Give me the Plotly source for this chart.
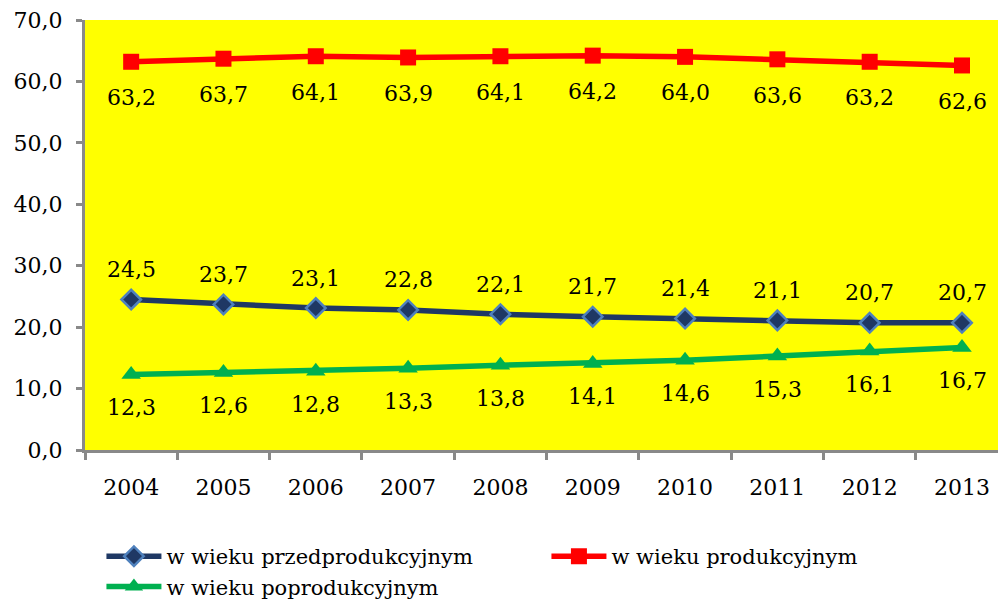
import plotly.graph_objects as go

years = ["2004", "2005", "2006", "2007", "2008", "2009", "2010", "2011", "2012", "2013"]
przed = [24.5, 23.7, 23.1, 22.8, 22.1, 21.7, 21.4, 21.1, 20.7, 20.7]
prod = [63.2, 63.7, 64.1, 63.9, 64.1, 64.2, 64.0, 63.6, 63.2, 62.6]
poprod = [12.3, 12.6, 12.8, 13.3, 13.8, 14.1, 14.6, 15.3, 16.1, 16.7]
y_ticks = [0, 10, 20, 30, 40, 50, 60, 70]

FONT = "DejaVu Serif"
FS = 22

def fmt(v):
    return f"{v:.1f}".replace(".", ",")

fig = go.Figure()
fig.add_trace(go.Scatter(
    x=years, y=przed, name="w wieku przedprodukcyjnym", mode="lines+markers",
    line=dict(color="#1F3864", width=5.5),
    marker=dict(symbol="diamond", size=15, color="#1F3864", line=dict(color="#4F81BD", width=2.5)),
))
fig.add_trace(go.Scatter(
    x=years, y=prod, name="w wieku produkcyjnym", mode="lines+markers",
    line=dict(color="#FF0000", width=5.5),
    marker=dict(symbol="square", size=16, color="#FF0000"),
))
fig.add_trace(go.Scatter(
    x=years, y=poprod, name="w wieku poprodukcyjnym", mode="lines+markers",
    line=dict(color="#00B050", width=5.5),
    marker=dict(symbol="triangle-up", size=17, color="#00B050"),
))

def add_labels(values, shift):
    for i, v in enumerate(values):
        fig.add_annotation(x=i, y=v, xref="x", yref="y", text=fmt(v), showarrow=False,
                           yshift=shift, font=dict(family=FONT, size=FS, color="black"))

add_labels(przed, 30)
add_labels(prod, -36)
add_labels(poprod, -33)

fig.update_layout(
    width=999, height=607,
    margin=dict(l=85, r=1, t=20, b=156),
    paper_bgcolor="white",
    plot_bgcolor="#FFFF00",
    font=dict(family=FONT, size=FS, color="black"),
    showlegend=True,
    legend=dict(
        orientation="h", x=0.018, y=-0.198, xanchor="left", yanchor="top",
        entrywidth=375, entrywidthmode="pixels",
        font=dict(family=FONT, size=21, color="black"),
        itemwidth=55, tracegroupgap=0,
    ),
)
fig.update_xaxes(
    type="category", range=[-0.5, 9.39],
    showline=True, linecolor="#898989", linewidth=3,
    ticks="outside", ticklen=7, tickcolor="#898989", tickwidth=3,
    tickson="boundaries", showgrid=False, zeroline=False,
    ticklabelstandoff=16,
    tickfont=dict(family=FONT, size=FS, color="black"),
)
fig.update_yaxes(
    range=[0, 70], tickvals=y_ticks, ticktext=[fmt(v) for v in y_ticks],
    showline=True, linecolor="#898989", linewidth=3,
    ticks="outside", ticklen=6, tickcolor="#898989", tickwidth=3,
    showgrid=False, zeroline=False,
    ticklabelstandoff=9,
    tickfont=dict(family=FONT, size=FS, color="black"),
)

fig.write_html("out.html", config={"displayModeBar": False},
               post_script="document.body.style.margin='0';")
